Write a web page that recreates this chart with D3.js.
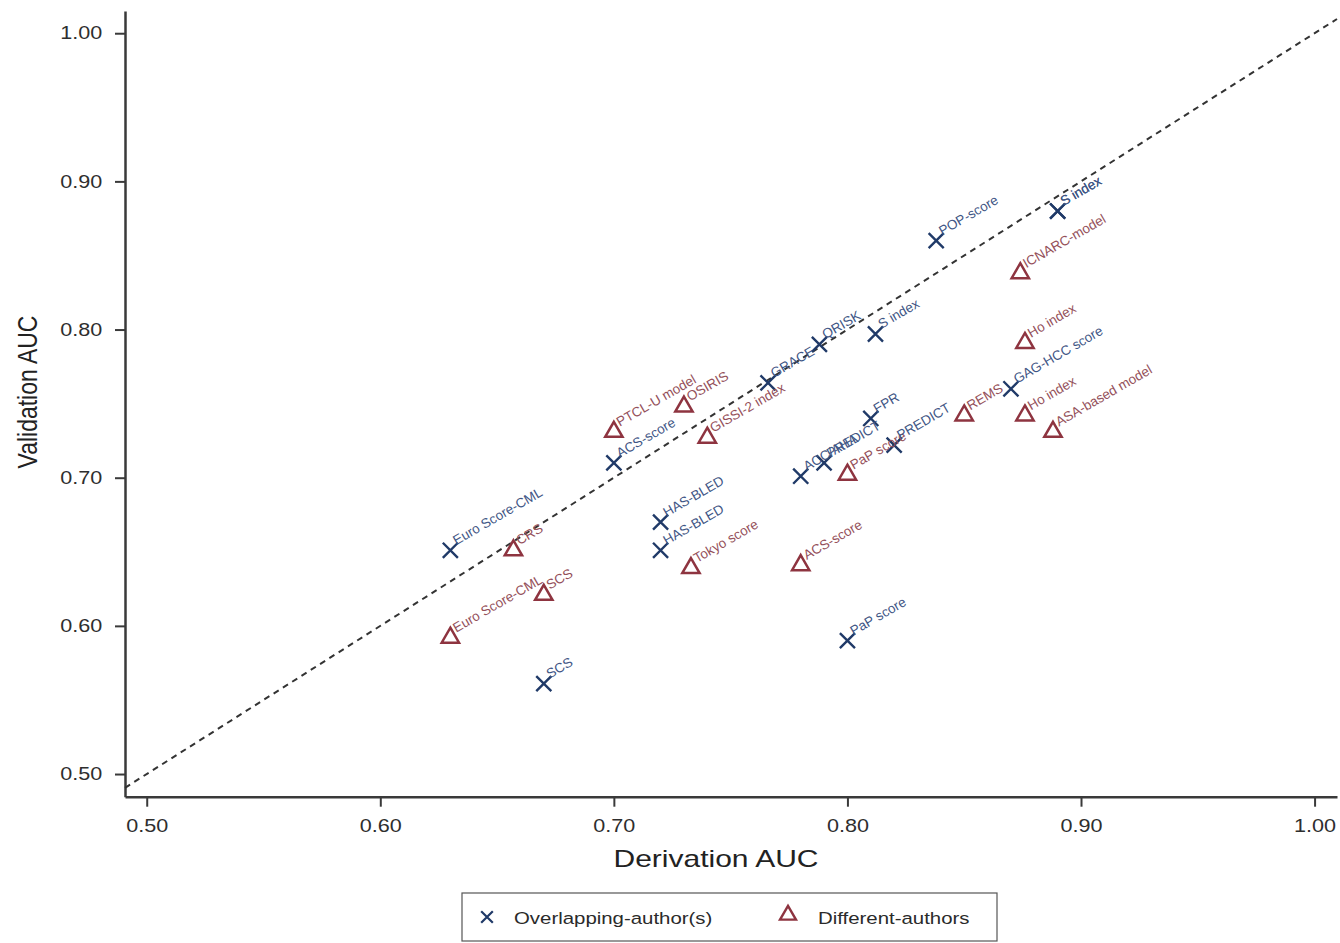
<!DOCTYPE html>
<html>
<head>
<meta charset="utf-8">
<script src="https://cdn.jsdelivr.net/npm/d3@7"></script>
<style>
  body { margin: 0; background: #fff; }
  svg { font-family: "Liberation Sans", Arial, Helvetica, sans-serif; }
  .axis path, .axis line { stroke: #3a3a3a; stroke-width: 2.5; }
  .axis text { fill: #2e2e2e; }
</style>
</head>
<body>
<div id="chart"></div>
<script>
const width = 1340
const height = 943

// Overlapping-author(s) models (crosses)
const overlapNames = ["Euro Score-CML", "ACS-score", "HAS-BLED", "HAS-BLED", "SCS", "GRACE", "QRISK",
  "ACC/AHA", "PREDICT", "FPR", "PREDICT", "S index", "POP-score", "S index", "S index", "GAG-HCC score", "PaP score"]
const overlapDeriv = [0.630, 0.700, 0.720, 0.720, 0.670, 0.766, 0.788, 0.780, 0.790, 0.810, 0.820, 0.812, 0.838, 0.890, 0.890, 0.870, 0.800]
const overlapValid = [0.651, 0.710, 0.670, 0.651, 0.561, 0.764, 0.790, 0.701, 0.710, 0.740, 0.722, 0.797, 0.860, 0.880, 0.880, 0.760, 0.590]

// Different-authors models (triangles)
const diffNames = ["Euro Score-CML", "CRS", "SCS", "PTCL-U model", "OSIRIS", "GISSI-2 index", "Tokyo score",
  "ACS-score", "PaP score", "REMS", "ICNARC-model", "Ho index", "Ho index", "ASA-based model"]
const diffDeriv = [0.630, 0.657, 0.670, 0.700, 0.730, 0.740, 0.733, 0.780, 0.800, 0.850, 0.874, 0.876, 0.876, 0.888]
const diffValid = [0.592, 0.651, 0.621, 0.731, 0.748, 0.727, 0.639, 0.641, 0.702, 0.742, 0.838, 0.791, 0.742, 0.731]

const xTicks = [0.5, 0.6, 0.7, 0.8, 0.9, 1.0]
const yTicks = [0.5, 0.6, 0.7, 0.8, 0.9, 1.0]
const xDomain = [0.4907, 1.0096]
const yDomain = [0.4847, 1.015]

const blue = "#203a68"
const blueText = "#3f5685"
const red = "#8e3440"
const redText = "#94505a"

const svg = d3.select("div#chart").append("svg").attr("width", width).attr("height", height)

const x = d3.scaleLinear().domain(xDomain).range([125, 1337])
const y = d3.scaleLinear().domain(yDomain).range([796.7, 11])

// Axes
const xAxis = d3.axisBottom(x).tickValues(xTicks).tickFormat(d3.format(".2f")).tickSize(10).tickSizeOuter(0).tickPadding(13)
const yAxis = d3.axisLeft(y).tickValues(yTicks).tickFormat(d3.format(".2f")).tickSize(10).tickSizeOuter(0).tickPadding(9)

const xAxisGroup = svg.append("g").attr("class", "axis").attr("transform", `translate(0, ${y.range()[0]})`).call(xAxis)
const yAxisGroup = svg.append("g").attr("class", "axis").attr("transform", `translate(${x.range()[0]}, 0)`).call(yAxis)
xAxisGroup.selectAll(".tick line").style("stroke-width", 2)
yAxisGroup.selectAll(".tick line").style("stroke-width", 2)
xAxisGroup.selectAll(".tick text").attr("font-size", 18).attr("transform", "scale(1.2,1)")
yAxisGroup.selectAll(".tick text").attr("font-size", 18).attr("transform", "scale(1.2,1)")

// Axis titles
svg.append("text")
  .attr("transform", "translate(716, 867) scale(1.25,1)")
  .attr("text-anchor", "middle").attr("font-size", 24).attr("fill", "#222")
  .text("Derivation AUC")
svg.append("text")
  .attr("transform", "translate(37, 392) scale(1.2,1) rotate(-90)")
  .attr("text-anchor", "middle").attr("font-size", 23).attr("fill", "#222")
  .text("Validation AUC")

// Line of equality
svg.append("line")
  .attr("x1", x(xDomain[0])).attr("y1", y(xDomain[0]))
  .attr("x2", x(xDomain[1])).attr("y2", y(xDomain[1]))
  .attr("stroke", "#333").attr("stroke-width", 2).attr("stroke-dasharray", "6,5")

const overlap = overlapNames.map((n, i) => ({name: n, d: overlapDeriv[i], v: overlapValid[i]}))
const diff = diffNames.map((n, i) => ({name: n, d: diffDeriv[i], v: diffValid[i]}))

const cross = d3.symbol().type(d3.symbolTimes).size(150)
const tri = d3.symbol().type(d3.symbolTriangle).size(130)

// Triangles
svg.append("g").selectAll("path").data(diff).join("path")
  .attr("d", tri)
  .attr("transform", d => `translate(${x(d.d)}, ${y(d.v)})`)
  .attr("fill", "#fff").attr("stroke", red).attr("stroke-width", 2.5)

// Crosses
svg.append("g").selectAll("path").data(overlap).join("path")
  .attr("d", cross)
  .attr("transform", d => `translate(${x(d.d)}, ${y(d.v)})`)
  .attr("fill", "none").attr("stroke", blue).attr("stroke-width", 2.4)

// Labels
svg.append("g").selectAll("text").data(diff).join("text")
  .attr("transform", d => `translate(${x(d.d) + 6}, ${y(d.v) - 5}) rotate(-30)`)
  .attr("font-size", 13.5).attr("fill", redText)
  .text(d => d.name)
svg.append("g").selectAll("text").data(overlap).join("text")
  .attr("transform", d => `translate(${x(d.d) + 6}, ${y(d.v) - 5}) rotate(-30)`)
  .attr("font-size", 13.5).attr("fill", blueText)
  .text(d => d.name)

// Legend
const legend = svg.append("g")
legend.append("rect").attr("x", 462).attr("y", 893).attr("width", 535).attr("height", 48)
  .attr("fill", "none").attr("stroke", "#555").attr("stroke-width", 1.2)
legend.append("path").attr("d", d3.symbol().type(d3.symbolTimes).size(90))
  .attr("transform", "translate(487, 917)").attr("fill", "none").attr("stroke", blue).attr("stroke-width", 2.2)
legend.append("text").attr("transform", "translate(514, 924) scale(1.2,1)")
  .attr("font-size", 17).attr("fill", "#2a2a2a").text("Overlapping-author(s)")
legend.append("path").attr("d", d3.symbol().type(d3.symbolTriangle).size(110))
  .attr("transform", "translate(788, 915)").attr("fill", "#fff").attr("stroke", red).attr("stroke-width", 2.4)
legend.append("text").attr("transform", "translate(818, 924) scale(1.2,1)")
  .attr("font-size", 17).attr("fill", "#2a2a2a").text("Different-authors")
</script>
</body>
</html>
